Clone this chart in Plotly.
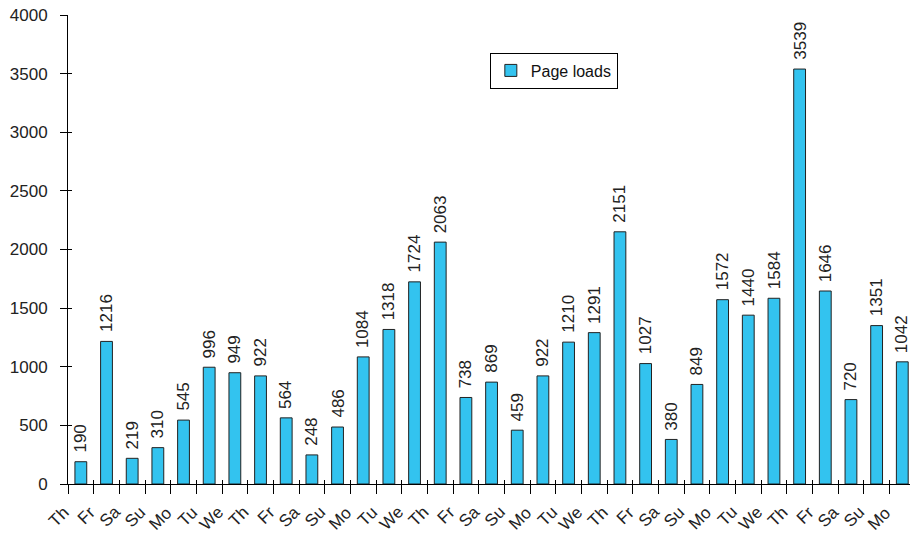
import plotly.graph_objects as go

days = ["Th","Fr","Sa","Su","Mo","Tu","We","Th","Fr","Sa","Su","Mo","Tu","We","Th","Fr","Sa","Su","Mo","Tu","We","Th","Fr","Sa","Su","Mo","Tu","We","Th","Fr","Sa","Su","Mo"]
page_loads = [190,1216,219,310,545,996,949,922,564,248,486,1084,1318,1724,2063,738,869,459,922,1210,1291,2151,1027,380,849,1572,1440,1584,3539,1646,720,1351,1042]

idx = list(range(len(days)))
font = "Arial, Liberation Sans, sans-serif"
txt = "#222222"
n = len(days)
xr = [-0.5, n - 0.7]

fig = go.Figure()
fig.add_trace(go.Bar(
    x=idx, y=page_loads, name="Page loads",
    marker=dict(color="#33C3EF", line=dict(color="#222222", width=1)),
    width=0.46,
))
# invisible trace on overlay axes (used for crossing tick marks)
fig.add_trace(go.Scatter(x=[0], y=[0], xaxis="x2", yaxis="y2", mode="markers",
                         marker=dict(opacity=0), showlegend=False, hoverinfo="skip"))

# value labels
for i, v in zip(idx, page_loads):
    fig.add_annotation(x=i, y=v, xref="x", yref="y", text=str(v), showarrow=False,
                       textangle=-90, xanchor="center", yanchor="bottom", yshift=7,
                       font=dict(family=font, size=17, color=txt))
# category labels (rotated)
for i, d in zip(idx, days):
    fig.add_annotation(x=i, y=0, xref="x", yref="paper", text=d, showarrow=False,
                       textangle=-45, xanchor="right", yanchor="top",
                       xshift=-5, yshift=-16,
                       font=dict(family=font, size=17, color=txt))

fig.update_layout(
    width=910, height=536,
    margin=dict(l=68, r=0, t=15, b=52),
    plot_bgcolor="white", paper_bgcolor="white",
    font=dict(family=font, size=17, color=txt),
    showlegend=True,
    legend=dict(x=0.501, y=0.92, xanchor="left", yanchor="top",
                bordercolor="black", borderwidth=1, bgcolor="white",
                font=dict(family=font, size=16, color="#111111"),
                itemwidth=30, tracegroupgap=0),
    xaxis=dict(
        tickmode="array", tickvals=idx, ticktext=days, showticklabels=False,
        range=xr, ticks="",
        minor=dict(tick0=-0.5, dtick=1, ticks="outside", ticklen=9, tickcolor="black"),
        showline=True, linecolor="black", linewidth=1,
        showgrid=False, zeroline=False,
    ),
    xaxis2=dict(
        range=xr, overlaying="x", anchor="y2", side="bottom",
        tickmode="array", tickvals=[i - 0.5 for i in range(n + 1)],
        ticks="inside", ticklen=4, tickcolor="black", showticklabels=False,
        showgrid=False, zeroline=False, showline=False,
    ),
    yaxis=dict(
        range=[0, 4000], dtick=500, ticks="outside", ticklen=7, tickcolor="black",
        showline=True, linecolor="black", linewidth=1, showgrid=False, zeroline=False,
        tickfont=dict(family=font, size=17, color=txt),
        ticklabelstandoff=9,
    ),
    yaxis2=dict(
        range=[0, 4000], dtick=500, overlaying="y", anchor="x2", side="left",
        ticks="inside", ticklen=4, tickcolor="black", showticklabels=False,
        showgrid=False, zeroline=False, showline=False,
    ),
)

fig.write_html("out.html")
